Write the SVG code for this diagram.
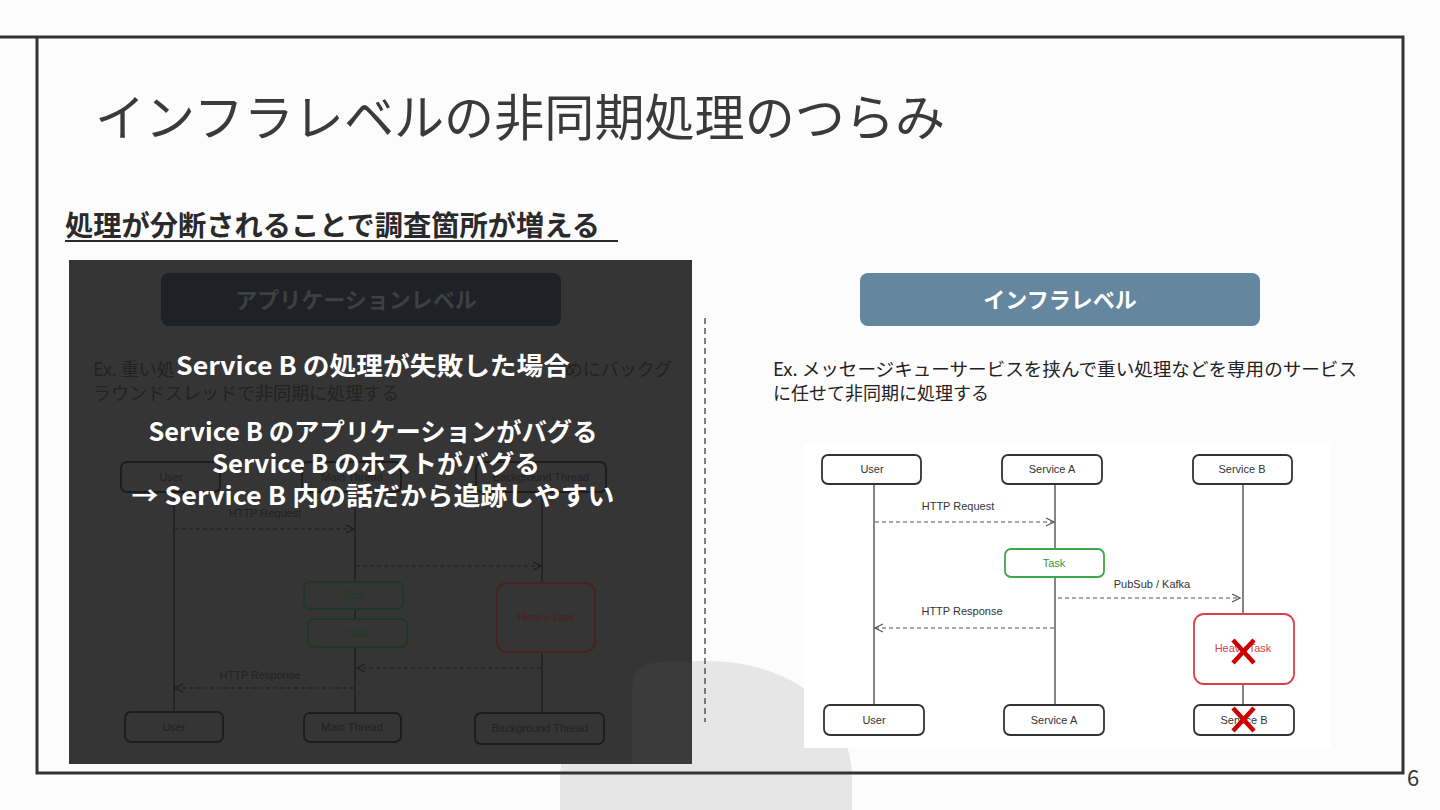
<svg xmlns="http://www.w3.org/2000/svg" width="1440" height="810" viewBox="0 0 1440 810">
<defs>
<style>
.jp{font-family:"Noto Sans CJK JP","Noto Sans",sans-serif}
.hw{font-family:"Liberation Sans","DejaVu Sans",sans-serif;font-size:11px;text-anchor:middle}
.box{fill:#ffffff;stroke:#333;stroke-width:1.8}
.life{stroke:#444;stroke-width:1.3}
.dash{stroke:#555;stroke-width:1.2;stroke-dasharray:4 3;fill:none}
.dbox{fill:none;stroke:#1c1c1c;stroke-width:1.8}
.dlife{stroke:#1e1e1e;stroke-width:1.3}
.ddash{stroke:#1e1e1e;stroke-width:1.2;stroke-dasharray:4 3;fill:none}
.ov{font-family:"Noto Sans CJK JP","Noto Sans",sans-serif;font-weight:bold;font-size:25px;fill:#ffffff;text-anchor:middle}
.x{stroke:#cc0000;stroke-width:4.5;stroke-linecap:butt}
</style>
<marker id="ah" viewBox="0 0 10 10" refX="9" refY="5" markerWidth="10" markerHeight="10" markerUnits="userSpaceOnUse" orient="auto">
<path d="M1,1 L9,5 L1,9" fill="none" stroke="#555" stroke-width="1.2"/>
</marker>
<marker id="dah" viewBox="0 0 10 10" refX="9" refY="5" markerWidth="10" markerHeight="10" markerUnits="userSpaceOnUse" orient="auto">
<path d="M1,1 L9,5 L1,9" fill="none" stroke="#1e1e1e" stroke-width="1.2"/>
</marker>
</defs>

<rect x="0" y="0" width="1440" height="810" fill="#fcfcfc"/>
<!-- background arch -->
<path d="M560,810 L560,780 C560,705 625,661 706,661 C787,661 852,705 852,780 L852,810 Z" fill="#e6e6e6"/>

<!-- frame -->
<g id="frame" fill="none" stroke="#333" stroke-width="3">
<path d="M0,37 L1403,37 L1403,773 L37,773 L37,37"/>
</g>
<text x="1413" y="786" class="jp" font-size="22" fill="#333" text-anchor="middle">6</text>

<g id="title">
<text x="95" y="136" class="jp" font-size="50" fill="#3a3a3a" textLength="850" lengthAdjust="spacingAndGlyphs">インフラレベルの非同期処理のつらみ</text>
</g>
<g id="subtitle">
<text x="65" y="236" class="jp" font-size="28" font-weight="bold" fill="#2a2a2a" textLength="535" lengthAdjust="spacingAndGlyphs">処理が分断されることで調査箇所が増える</text>
<line x1="65" y1="241" x2="618" y2="241" stroke="#2a2a2a" stroke-width="2"/>
</g>

<!-- left dimmed panel -->
<g id="left-panel">
<rect x="69" y="260" width="623" height="504" fill="#353535"/>
<path d="M632,764 L632,690 Q632,663 660,662 L692,662 L692,764 Z" fill="#3b3b3b"/>
<g id="app-header">
<rect x="161" y="273" width="400" height="53" rx="8" fill="#1e2226"/>
<text x="356" y="308" class="jp" font-size="22" font-weight="bold" fill="#3c4044" text-anchor="middle">アプリケーションレベル</text>
</g>
<text x="93" y="376" class="jp" font-size="18" fill="#222">Ex. 重い処</text>
<text x="672" y="376" class="jp" font-size="18" fill="#222" text-anchor="end">めにバックグ</text>
<text x="93" y="400" class="jp" font-size="18" fill="#222">ラウンドスレッドで非同期に処理する</text>

<g id="l-connectors">
<line class="dlife" x1="174" y1="492" x2="174" y2="712"/>
<line class="dlife" x1="355" y1="492" x2="355" y2="582"/>
<line class="dlife" x1="355" y1="609" x2="355" y2="619"/>
<line class="dlife" x1="355" y1="647" x2="355" y2="713"/>
<line class="dlife" x1="542" y1="492" x2="542" y2="583"/>
<line class="dlife" x1="542" y1="652" x2="542" y2="713"/>
<line class="ddash" x1="175" y1="529" x2="354" y2="529" marker-end="url(#dah)"/>
<line class="ddash" x1="356" y1="566" x2="541" y2="566" marker-end="url(#dah)"/>
<line class="ddash" x1="541" y1="668" x2="357" y2="668" marker-end="url(#dah)"/>
<line class="ddash" x1="354" y1="688" x2="175" y2="688" marker-end="url(#dah)"/>
<text x="265" y="517" class="hw" fill="#222">HTTP Request</text>
<text x="260" y="679" class="hw" fill="#222">HTTP Response</text>
</g>
<g id="l-user"><rect class="dbox" x="121" y="462" width="99" height="30" rx="6"/><text x="171" y="481" class="hw" fill="#222">User</text></g>
<g id="l-main"><rect class="dbox" x="302" y="462" width="99" height="30" rx="6"/><text x="352" y="481" class="hw" fill="#222">Main Thread</text></g>
<g id="l-bg"><rect class="dbox" x="476" y="462" width="130" height="30" rx="6"/><text x="541" y="481" class="hw" fill="#222">Background Thread</text></g>
<g id="l-task1"><rect x="304" y="582" width="99" height="27" rx="6" fill="none" stroke="#1f3826" stroke-width="1.8"/><text x="353" y="599" class="hw" fill="#1f3826">Task</text></g>
<g id="l-task2"><rect x="308" y="619" width="99" height="28" rx="6" fill="none" stroke="#1f3826" stroke-width="1.8"/><text x="357" y="637" class="hw" fill="#1f3826">Task</text></g>
<g id="l-heavy"><rect x="497" y="583" width="98" height="69" rx="10" fill="none" stroke="#4a2020" stroke-width="1.8"/><text x="546" y="621" class="hw" fill="#4a2020">Heavy Task</text></g>
<g id="l-user2"><rect class="dbox" x="125" y="712" width="98" height="30" rx="6"/><text x="174" y="731" class="hw" fill="#222">User</text></g>
<g id="l-main2"><rect class="dbox" x="304" y="713" width="97" height="29" rx="6"/><text x="352" y="731" class="hw" fill="#222">Main Thread</text></g>
<g id="l-bg2"><rect class="dbox" x="475" y="713" width="129" height="31" rx="6"/><text x="540" y="732" class="hw" fill="#222">Background Thread</text></g>

<g id="overlay-text">
<text x="373" y="375" class="ov" textLength="394" lengthAdjust="spacingAndGlyphs">Service B の処理が失敗した場合</text>
<text x="373" y="441" class="ov" textLength="449" lengthAdjust="spacingAndGlyphs">Service B のアプリケーションがバグる</text>
<text x="376" y="473" class="ov" textLength="328" lengthAdjust="spacingAndGlyphs">Service B のホストがバグる</text>
<text x="373" y="505" class="ov" textLength="483" lengthAdjust="spacingAndGlyphs">→ Service B 内の話だから追跡しやすい</text>
</g>
</g>

<!-- divider -->
<line x1="705" y1="318" x2="705" y2="722" stroke="#555" stroke-width="1.5" stroke-dasharray="6 4"/>

<!-- right panel -->
<g id="infra-header">
<rect x="860" y="273" width="400" height="53" rx="8" fill="#64869e"/>
<text x="1060" y="308" class="jp" font-size="22" font-weight="bold" fill="#ffffff" text-anchor="middle">インフラレベル</text>
</g>
<text x="773" y="376" class="jp" font-size="18" fill="#222" textLength="584" lengthAdjust="spacingAndGlyphs">Ex. メッセージキューサービスを挟んで重い処理などを専用のサービス</text>
<text x="773" y="400" class="jp" font-size="18" fill="#222">に任せて非同期に処理する</text>

<rect x="804" y="443" width="527" height="305" fill="#ffffff"/>
<g id="r-connectors">
<line class="life" x1="874" y1="484" x2="874" y2="705"/>
<line class="life" x1="1055" y1="484" x2="1055" y2="549"/>
<line class="life" x1="1055" y1="577" x2="1055" y2="705"/>
<line class="life" x1="1243" y1="484" x2="1243" y2="614"/>
<line class="life" x1="1243" y1="684" x2="1243" y2="705"/>
<line class="dash" x1="875" y1="522" x2="1054" y2="522" marker-end="url(#ah)"/>
<line class="dash" x1="1058" y1="598" x2="1240" y2="598" marker-end="url(#ah)"/>
<line class="dash" x1="1054" y1="628" x2="875" y2="628" marker-end="url(#ah)"/>
<text x="958" y="510" class="hw" fill="#333">HTTP Request</text>
<text x="1152" y="588" class="hw" fill="#333">PubSub / Kafka</text>
<text x="962" y="615" class="hw" fill="#333">HTTP Response</text>
</g>
<g id="r-user"><rect class="box" x="822" y="455" width="99" height="29" rx="6"/><text x="872" y="473" class="hw" fill="#333">User</text></g>
<g id="r-svcA"><rect class="box" x="1002" y="455" width="100" height="29" rx="6"/><text x="1052" y="473" class="hw" fill="#333">Service A</text></g>
<g id="r-svcB"><rect class="box" x="1193" y="455" width="99" height="29" rx="6"/><text x="1242" y="473" class="hw" fill="#333">Service B</text></g>
<g id="r-task"><rect x="1005" y="549" width="99" height="28" rx="6" fill="#ffffff" stroke="#3aa84a" stroke-width="1.8"/><text x="1054" y="567" class="hw" fill="#2f9a40">Task</text></g>
<g id="r-heavy"><rect x="1194" y="614" width="100" height="70" rx="10" fill="#ffffff" stroke="#d9414a" stroke-width="1.8"/><text x="1243" y="652" class="hw" fill="#d9414a">Heavy Task</text>
<line class="x" x1="1233" y1="640" x2="1254" y2="663"/><line class="x" x1="1254" y1="640" x2="1233" y2="663"/></g>
<g id="r-user2"><rect class="box" x="824" y="705" width="100" height="30" rx="6"/><text x="874" y="724" class="hw" fill="#333">User</text></g>
<g id="r-svcA2"><rect class="box" x="1004" y="705" width="100" height="30" rx="6"/><text x="1054" y="724" class="hw" fill="#333">Service A</text></g>
<g id="r-svcB2"><rect class="box" x="1194" y="705" width="100" height="30" rx="6"/><text x="1244" y="724" class="hw" fill="#333">Service B</text>
<line class="x" x1="1233" y1="708" x2="1254" y2="731"/><line class="x" x1="1254" y1="708" x2="1233" y2="731"/></g>
</svg>
